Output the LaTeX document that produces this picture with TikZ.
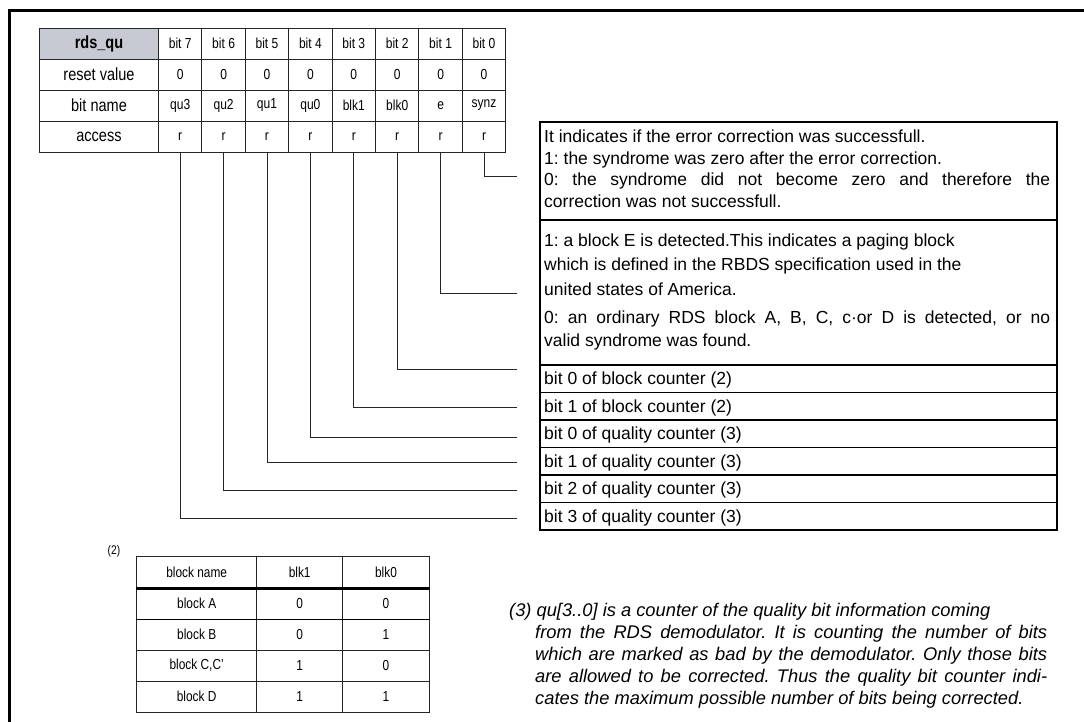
\documentclass[tikz,border=0pt]{standalone}
\usepackage{fontspec}
\setmainfont{Liberation Sans}
\usepackage{graphicx}
\usetikzlibrary{calc}
\definecolor{hdrgray}{RGB}{199,201,211}
\newcommand\nscale[1]{\scalebox{0.83}[1]{#1}}
\newcommand\tscale[1]{\scalebox{0.82}[1]{#1}}
\frenchspacing
\begin{document}
\begin{tikzpicture}[x=1pt,y=-1pt,
  every node/.style={inner sep=0pt},
  regcell/.style={draw=black!85,line width=0.9pt,minimum height=31pt},
  bitcell/.style={regcell,minimum width=43.4pt,font=\fontsize{14.5}{16}\selectfont},
  namecell/.style={regcell,minimum width=119pt,font=\fontsize{17.5}{20}\selectfont},
  boxcell/.style={draw=black,line width=1.8pt,minimum width=517pt},
  btxt/.style={anchor=base west,font=\fontsize{17.5}{20}\selectfont},
  ntxt/.style={anchor=base west,font=\fontsize{18.3}{21}\selectfont\itshape},
  conn/.style={draw=black!85,line width=1pt},
  tcell/.style={draw=black!85,line width=0.9pt,font=\fontsize{14.5}{16}\selectfont},
]
\useasboundingbox (0,0) rectangle (1084,722);

% outer frame
\coordinate (fa) at (9.5,722);
\coordinate (fb) at (9.5,10.5);
\coordinate (fc) at (1084,10.5);
\draw[line width=2.5pt] (fa) -- (fb) -- (fc);

% register table
\node[namecell,fill=hdrgray,font=\fontsize{17.5}{20}\selectfont\bfseries] (hn) at (99,43.5) {\nscale{rds\_qu}};
\node[namecell] (vn) at (99,74.5) {\nscale{reset value}};
\node[namecell] (nn) at (99,105.5) {\nscale{bit name}};
\node[namecell] (an) at (99,136.5) {\nscale{access}};
\foreach \b/\nm [count=\i from 0] in {7/qu3,6/qu2,5/qu1,4/qu0,3/blk1,2/blk0,1/e,0/synz} {
  \pgfmathsetmacro\cx{180.2+43.4*\i}
  \node[bitcell] (h\b) at (\cx,43.5) {\nscale{bit \b}};
  \node[bitcell] (v\b) at (\cx,74.5) {\nscale{0}};
  \node[bitcell] (n\b) at (\cx,105.5) {\nscale{\nm}};
  \node[bitcell] (a\b) at (\cx,136.5) {\nscale{r}};
}

% description box
\node[boxcell,minimum height=98pt] (c0) at (798.5,171) {};
\node[boxcell,minimum height=145pt] (c1) at (798.5,292.5) {};
\node[boxcell,minimum height=27.5pt] (c2) at (798.5,378.75) {};
\node[boxcell,minimum height=27.5pt] (c3) at (798.5,406.25) {};
\node[boxcell,minimum height=27.5pt] (c4) at (798.5,433.75) {};
\node[boxcell,minimum height=27.5pt] (c5) at (798.5,461.25) {};
\node[boxcell,minimum height=27.5pt] (c6) at (798.5,488.75) {};
\node[boxcell,minimum height=27.5pt] (c7) at (798.5,516.25) {};

\node[btxt] (t0a) at (544,143) {It indicates if the error correction was successfull.};
\node[btxt] (t0b) at (544,164.5) {1: the syndrome was zero after the error correction.};
\node[btxt] (t0c) at (544,186) {\makebox[506pt][s]{0: the syndrome did not become zero and therefore the}};
\node[btxt] (t0d) at (544,207.5) {correction was not successfull.};
\node[btxt] (t1a) at (544,246) {1: a block E is detected.This indicates a paging block};
\node[btxt] (t1b) at (544,270.5) {which is defined in the RBDS specification used in the};
\node[btxt] (t1c) at (544,295) {united states of America.};
\node[btxt] (t1d) at (544,323) {\makebox[506pt][s]{0: an ordinary RDS block A, B, C, c·or D is detected, or no}};
\node[btxt] (t1e) at (544,346) {valid syndrome was found.};
\node[btxt] (t2) at (544,384.75) {bit 0 of block counter (2)};
\node[btxt] (t3) at (544,412.25) {bit 1 of block counter (2)};
\node[btxt] (t4) at (544,439.75) {bit 0 of quality counter (3)};
\node[btxt] (t5) at (544,467.25) {bit 1 of quality counter (3)};
\node[btxt] (t6) at (544,494.75) {bit 2 of quality counter (3)};
\node[btxt] (t7) at (544,522.25) {bit 3 of quality counter (3)};

% connectors
\foreach \b/\y in {0/177,1/293,2/369,3/407,4/437,5/462,6/490,7/518} {
  \coordinate (e\b) at (516.7,\y);
  \draw[conn] (a\b.south) |- (e\b);
}

% block table
\node[font=\fontsize{12.5}{14}\selectfont] (fn2) at (114,551) {\tscale{(2)}};
\node[tcell,minimum width=120pt,minimum height=32pt] (bh0) at (196.7,572) {\tscale{block name}};
\node[tcell,minimum width=86pt,minimum height=32pt] (bh1) at (299.7,572) {\tscale{blk1}};
\node[tcell,minimum width=86.6pt,minimum height=32pt] (bh2) at (386,572) {\tscale{blk0}};
\foreach \nm/\p/\q [count=\r from 1] in {block A/0/0,block B/0/1,block C{,}C'/1/0,block D/1/1} {
  \pgfmathsetmacro\ry{572.5+31*\r}
  \node[tcell,minimum width=120pt,minimum height=31pt] (bn\r) at (196.7,\ry) {\tscale{\nm}};
  \node[tcell,minimum width=86pt,minimum height=31pt] (bp\r) at (299.7,\ry) {\tscale{\p}};
  \node[tcell,minimum width=86.6pt,minimum height=31pt] (bq\r) at (386,\ry) {\tscale{\q}};
}
\draw[line width=2.6pt] (bh0.south west) -- (bh2.south east);
\draw[line width=1.8pt] (bn1.south west) -- (bq1.south east);

% footnote (3)
\node[ntxt] (n3a) at (509,616) {(3) qu[3..0] is a counter of the quality bit information coming};
\node[ntxt] (n3b) at (535,638) {\makebox[512pt][s]{from the RDS demodulator. It is counting the number of bits}};
\node[ntxt] (n3c) at (535,660) {\makebox[512pt][s]{which are marked as bad by the demodulator. Only those bits}};
\node[ntxt] (n3d) at (535,682) {\makebox[512pt][s]{are allowed to be corrected. Thus the quality bit counter indi-}};
\node[ntxt] (n3e) at (535,704) {cates the maximum possible number of bits being corrected.};
\end{tikzpicture}
\end{document}
